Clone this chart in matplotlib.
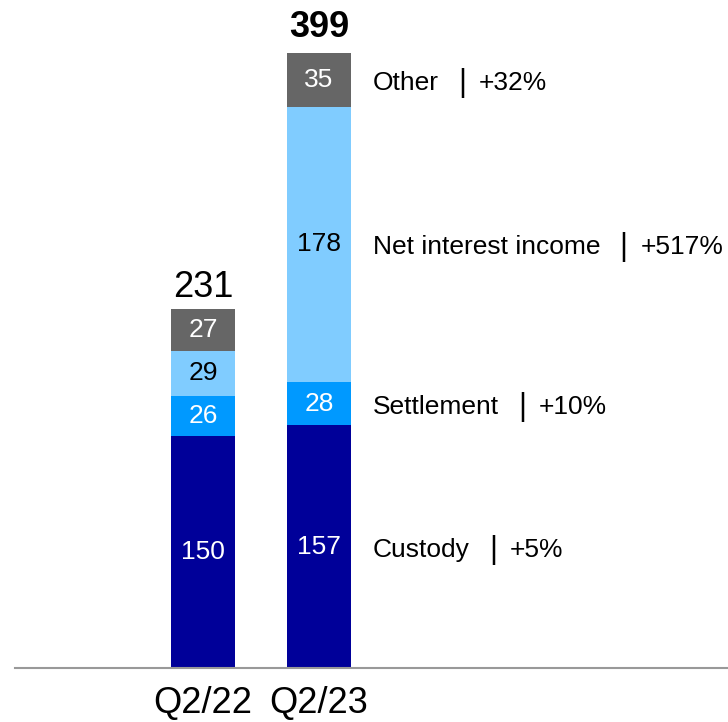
import matplotlib.pyplot as plt
import numpy as np

plt.rcParams['font.family'] = ['Liberation Sans', 'DejaVu Sans']

# Data
periods = ['Q2/22', 'Q2/23']
segments = ['Custody', 'Settlement', 'Net interest income', 'Other']
values = {
    'Custody':             [150, 157],
    'Settlement':          [26, 28],
    'Net interest income': [29, 178],
    'Other':               [27, 35],
}
totals = [231, 399]
growth = ['+5%', '+10%', '+517%', '+32%']

colors = ['#000099', '#0099FF', '#80CCFF', '#666666']
label_colors = ['white', 'white', 'black', 'white']

fig = plt.figure(figsize=(7.28, 7.22), dpi=100)
# axes spans from x=15px to right edge, baseline at y=667px
ax = fig.add_axes([15 / 728, 54 / 722, 713 / 728, 668 / 722])

x = np.arange(len(periods))
width = 0.552
bottom = np.zeros(len(periods))
for seg, col, lcol in zip(segments, colors, label_colors):
    vals = np.array(values[seg])
    ax.bar(x, vals, width, bottom=bottom, color=col, edgecolor='none')
    for xi, v, b in zip(x, vals, bottom):
        ax.text(xi, b + v / 2, str(v), ha='center', va='center',
                color=lcol, fontsize=19)
    bottom += vals

# totals on top
ax.text(x[0], totals[0] + 4, str(totals[0]), ha='center', va='bottom',
        fontsize=26)
ax.text(x[1], totals[1] + 4, str(totals[1]), ha='center', va='bottom',
        fontsize=26, fontweight='bold')

# segment labels right of the last bar:  name | growth
cum = 0
for seg, g in zip(segments, growth):
    v = values[seg][1]
    yc = cum + v / 2
    t = ax.annotate(seg, xy=(1.466, yc), xytext=(0, -3),
                    textcoords='offset pixels', ha='left', va='center',
                    fontsize=19)
    ax.annotate('|', xy=(1, yc), xycoords=(t, 'data'), xytext=(23, -3),
                textcoords='offset pixels', ha='center', va='center',
                fontsize=22, fontweight='light')
    ax.annotate(g, xy=(1, yc), xycoords=(t, 'data'), xytext=(40, -3),
                textcoords='offset pixels', ha='left', va='center',
                fontsize=19)
    cum += v

ax.set_xlim(-1.621, 4.526)
ax.set_ylim(0, 432)
ax.axhline(0, color='#999999', linewidth=1.5, clip_on=False)

ax.set_xticks(x)
ax.set_xticklabels(periods, fontsize=26)
ax.tick_params(axis='x', length=0, pad=13)
ax.set_yticks([])
for s in ax.spines.values():
    s.set_visible(False)

fig.savefig('out.png', dpi=100)
